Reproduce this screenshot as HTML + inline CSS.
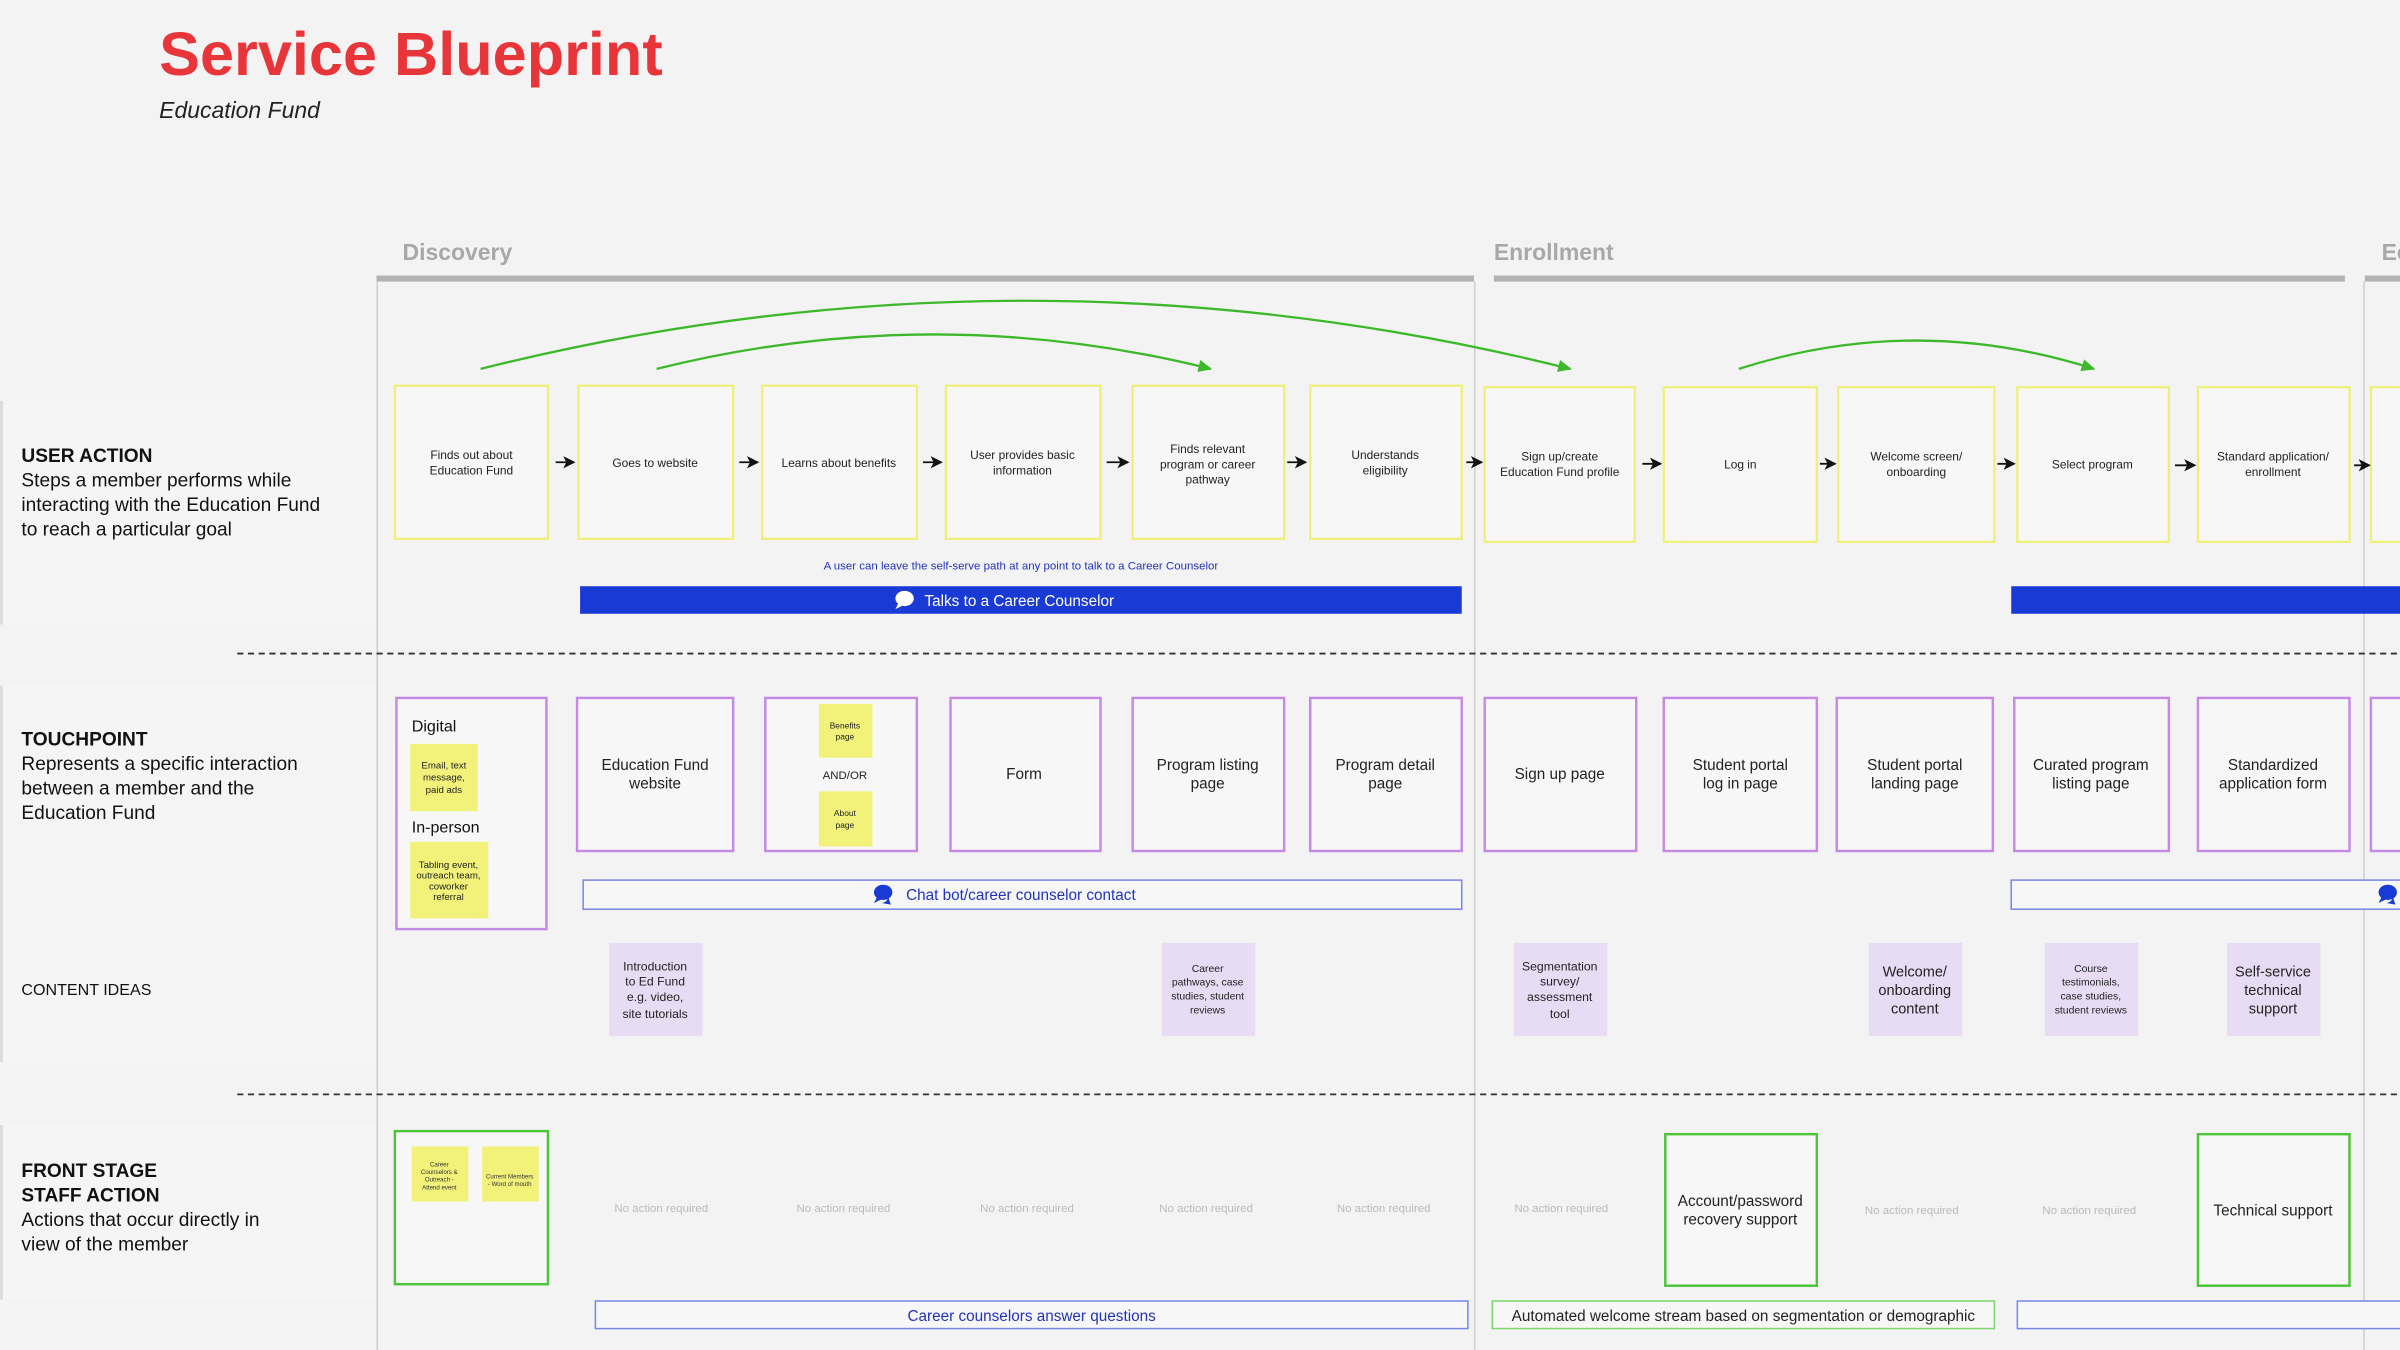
<!DOCTYPE html>
<html><head><meta charset="utf-8"><style>
html,body{margin:0;padding:0;background:#f3f3f3;}
svg{display:block;}
text{font-family:"Liberation Sans",sans-serif;}
</style></head><body>
<svg width="2400" height="1350" viewBox="0 0 1568 882" xmlns="http://www.w3.org/2000/svg">
<defs>
<marker id="ah" markerWidth="8" markerHeight="8" refX="7" refY="4" orient="auto" markerUnits="userSpaceOnUse"><path d="M0,0 L8,4 L0,8 L2,4 z" fill="#111"/></marker>
<marker id="gh" markerWidth="9" markerHeight="8" refX="8" refY="4" orient="auto" markerUnits="userSpaceOnUse"><path d="M0,0 L9,4 L0,8 z" fill="#3cb82a"/></marker>
<g id="chat"><ellipse cx="0" cy="0" rx="6" ry="5" fill="#1a3ad6"/><path d="M-4,3 L-6,7 L0,4 z" fill="#1a3ad6"/><path d="M3,2 a5,4 0 0 1 -4,5 L5,8 z" fill="#1a3ad6"/></g>
<g id="chatw"><ellipse cx="0" cy="0" rx="6" ry="5" fill="#fff"/><path d="M-4,3 L-6,7 L0,4 z" fill="#fff"/></g>
</defs>
<rect width="1568" height="882" fill="#f3f3f3"/>
<!-- left panel -->
<rect x="0" y="262" width="245" height="146" fill="#f5f5f5"/>
<rect x="0" y="262" width="2" height="146" fill="#ddd"/>
<rect x="0" y="448" width="245" height="246" fill="#f5f5f5"/>
<rect x="0" y="448" width="2" height="246" fill="#ddd"/>
<rect x="0" y="735" width="245" height="114" fill="#f5f5f5"/>
<rect x="0" y="735" width="2" height="114" fill="#ddd"/>

<text x="104" y="49" font-size="40" font-weight="bold" fill="#e8353a">Service Blueprint</text>
<text x="104" y="77" font-size="15" font-style="italic" fill="#222">Education Fund</text>

<text x="263" y="170" font-size="15" font-weight="bold" fill="#a8a8a8">Discovery</text>
<text x="976" y="170" font-size="15" font-weight="bold" fill="#a8a8a8">Enrollment</text>
<text x="1556" y="170" font-size="15" font-weight="bold" fill="#a8a8a8">Ec</text>
<rect x="246" y="180" width="717" height="4" fill="#b3b3b3"/>
<rect x="976" y="180" width="556" height="4" fill="#b3b3b3"/>
<rect x="1545" y="180" width="23" height="4" fill="#b3b3b3"/>
<line x1="246.5" y1="184" x2="246.5" y2="882" stroke="#cfcfcf" stroke-width="1"/>
<line x1="963.5" y1="184" x2="963.5" y2="882" stroke="#cfcfcf" stroke-width="1"/>
<line x1="1544.5" y1="184" x2="1544.5" y2="882" stroke="#cfcfcf" stroke-width="1"/>

<line x1="155" y1="427" x2="1568" y2="427" stroke="#333" stroke-width="1.2" stroke-dasharray="4,3"/>
<line x1="155" y1="715" x2="1568" y2="715" stroke="#333" stroke-width="1.2" stroke-dasharray="4,3"/>

<!-- row labels -->
<text font-size="12.5" fill="#111"><tspan x="14" y="302" font-weight="bold">USER ACTION</tspan><tspan x="14" y="318">Steps a member performs while</tspan><tspan x="14" y="334">interacting with the Education Fund</tspan><tspan x="14" y="350">to reach a particular goal</tspan></text>
<text font-size="12.5" fill="#111"><tspan x="14" y="487" font-weight="bold">TOUCHPOINT</tspan><tspan x="14" y="503">Represents a specific interaction</tspan><tspan x="14" y="519">between a member and the</tspan><tspan x="14" y="535">Education Fund</tspan></text>
<text x="14" y="650" font-size="10.5" fill="#111">CONTENT IDEAS</text>
<text font-size="12.5" fill="#111"><tspan x="14" y="769" font-weight="bold">FRONT STAGE</tspan><tspan x="14" y="785" font-weight="bold">STAFF ACTION</tspan><tspan x="14" y="801">Actions that occur directly in</tspan><tspan x="14" y="817">view of the member</tspan></text>

<!-- green arcs -->
<g fill="none" stroke="#3cb82a" stroke-width="1.5">
<path d="M314,241 Q670,152 1026,241" marker-end="url(#gh)"/>
<path d="M429,241 Q610,196 791,241" marker-end="url(#gh)"/>
<path d="M1136,241 Q1252,204 1368,241" marker-end="url(#gh)"/>
</g>

<!-- user action boxes -->
<g fill="#f7f7f7" stroke="#eef07a" stroke-width="1.5">
<rect x="258" y="252" width="100" height="100"/>
<rect x="378" y="252" width="101" height="100"/>
<rect x="498" y="252" width="101" height="100"/>
<rect x="618" y="252" width="101" height="100"/>
<rect x="740" y="252" width="99" height="100"/>
<rect x="856" y="252" width="99" height="100"/>
<rect x="970" y="253" width="98" height="101"/>
<rect x="1087" y="253" width="100" height="101"/>
<rect x="1201" y="253" width="102" height="101"/>
<rect x="1318" y="253" width="99" height="101"/>
<rect x="1436" y="253" width="99" height="101"/>
<rect x="1549" y="253" width="30" height="101"/>
</g>
<g font-size="7.8" fill="#222" text-anchor="middle">
<text x="308" y="300">Finds out about</text><text x="308" y="310">Education Fund</text>
<text x="428" y="305">Goes to  website</text>
<text x="548" y="305">Learns about benefits</text>
<text x="668" y="300">User provides basic</text><text x="668" y="310">information</text>
<text x="789" y="296">Finds relevant</text><text x="789" y="306">program or career</text><text x="789" y="316">pathway</text>
<text x="905" y="300">Understands</text><text x="905" y="310">eligibility</text>
<text x="1019" y="301">Sign up/create</text><text x="1019" y="311">Education Fund profile</text>
<text x="1137" y="306">Log in</text>
<text x="1252" y="301">Welcome screen/</text><text x="1252" y="311">onboarding</text>
<text x="1367" y="306">Select program</text>
<text x="1485" y="301">Standard application/</text><text x="1485" y="311">enrollment</text>
</g>
<g stroke="#111" stroke-width="1.2" marker-end="url(#ah)">
<line x1="363" y1="302" x2="375" y2="302"/>
<line x1="483" y1="302" x2="495" y2="302"/>
<line x1="603" y1="302" x2="615" y2="302"/>
<line x1="723" y1="302" x2="737" y2="302"/>
<line x1="841" y1="302" x2="853" y2="302"/>
<line x1="958" y1="302" x2="968" y2="302"/>
<line x1="1073" y1="303" x2="1085" y2="303"/>
<line x1="1189" y1="303" x2="1199" y2="303"/>
<line x1="1305" y1="303" x2="1316" y2="303"/>
<line x1="1421" y1="304" x2="1434" y2="304"/>
<line x1="1538" y1="304" x2="1548" y2="304"/>
</g>

<text x="667" y="372" font-size="7.5" fill="#2233bb" text-anchor="middle">A user can leave the self-serve path at any point to talk to a Career Counselor</text>
<rect x="379" y="383" width="576" height="18" fill="#1a3ad6"/>
<use href="#chatw" x="591" y="391"/>
<text x="604" y="396" font-size="10" fill="#fff">Talks to a Career Counselor</text>
<rect x="1314" y="383" width="254" height="18" fill="#1a3ad6"/>

<!-- touchpoints -->
<g fill="#f7f7f7" stroke="#c48ae6" stroke-width="1.6">
<rect x="259" y="456" width="98" height="151"/>
<rect x="377" y="456" width="102" height="100"/>
<rect x="500" y="456" width="99" height="100"/>
<rect x="621" y="456" width="98" height="100"/>
<rect x="740" y="456" width="99" height="100"/>
<rect x="856" y="456" width="99" height="100"/>
<rect x="970" y="456" width="99" height="100"/>
<rect x="1087" y="456" width="100" height="100"/>
<rect x="1200" y="456" width="102" height="100"/>
<rect x="1316" y="456" width="101" height="100"/>
<rect x="1436" y="456" width="99" height="100"/>
<rect x="1549" y="456" width="30" height="100"/>
</g>
<g fill="#f2f27a">
<rect x="268" y="486" width="44" height="44"/>
<rect x="268" y="550" width="51" height="50"/>
<rect x="535" y="460" width="35" height="35"/>
<rect x="535" y="517" width="35" height="36"/>
</g>
<text x="269" y="478" font-size="10.5" fill="#111">Digital</text>
<text x="269" y="544" font-size="10.5" fill="#111">In-person</text>
<g font-size="6.3" fill="#222" text-anchor="middle">
<text x="290" y="502">Email, text</text><text x="290" y="510">message,</text><text x="290" y="518">paid ads</text>
<text x="293" y="567">Tabling event,</text><text x="293" y="574">outreach team,</text><text x="293" y="581">coworker</text><text x="293" y="588">referral</text>
<text x="552" y="476" font-size="5.5">Benefits</text><text x="552" y="483" font-size="5.5">page</text>
<text x="552" y="533" font-size="5.5">About</text><text x="552" y="541" font-size="5.5">page</text>
</g>
<text x="552" y="509" font-size="7.5" fill="#222" text-anchor="middle">AND/OR</text>
<g font-size="10" fill="#222" text-anchor="middle">
<text x="428" y="503">Education Fund</text><text x="428" y="515">website</text>
<text x="669" y="509">Form</text>
<text x="789" y="503">Program listing</text><text x="789" y="515">page</text>
<text x="905" y="503">Program detail</text><text x="905" y="515">page</text>
<text x="1019" y="509">Sign up page</text>
<text x="1137" y="503">Student portal</text><text x="1137" y="515">log in page</text>
<text x="1251" y="503">Student portal</text><text x="1251" y="515">landing page</text>
<text x="1366" y="503">Curated program</text><text x="1366" y="515">listing page</text>
<text x="1485" y="503">Standardized</text><text x="1485" y="515">application form</text>
</g>

<rect x="381" y="575" width="574" height="19" fill="#f7f7f7" stroke="#7a88e6" stroke-width="1"/>
<use href="#chat" x="577" y="583"/>
<text x="592" y="588" font-size="10" fill="#2233bb">Chat bot/career counselor contact</text>
<rect x="1314" y="575" width="260" height="19" fill="#f7f7f7" stroke="#7a88e6" stroke-width="1"/>
<use href="#chat" x="1560" y="583"/>

<!-- content ideas -->
<g fill="#e8dcf5">
<rect x="398" y="616" width="61" height="61"/>
<rect x="759" y="616" width="61" height="61"/>
<rect x="989" y="616" width="61" height="61"/>
<rect x="1221" y="616" width="61" height="61"/>
<rect x="1336" y="616" width="61" height="61"/>
<rect x="1455" y="616" width="61" height="61"/>
</g>
<g fill="#222" text-anchor="middle">
<g font-size="8"><text x="428" y="634">Introduction</text><text x="428" y="644">to Ed Fund</text><text x="428" y="654">e.g. video,</text><text x="428" y="665">site tutorials</text></g>
<g font-size="6.8"><text x="789" y="635">Career</text><text x="789" y="644">pathways, case</text><text x="789" y="653">studies, student</text><text x="789" y="662">reviews</text></g>
<g font-size="8"><text x="1019" y="634">Segmentation</text><text x="1019" y="644">survey/</text><text x="1019" y="654">assessment</text><text x="1019" y="665">tool</text></g>
<g font-size="9.5"><text x="1251" y="638">Welcome/</text><text x="1251" y="650">onboarding</text><text x="1251" y="662">content</text></g>
<g font-size="6.8"><text x="1366" y="635">Course</text><text x="1366" y="644">testimonials,</text><text x="1366" y="653">case studies,</text><text x="1366" y="662">student reviews</text></g>
<g font-size="9.5"><text x="1485" y="638">Self-service</text><text x="1485" y="650">technical</text><text x="1485" y="662">support</text></g>
</g>

<!-- front stage -->
<g fill="#f7f7f7" stroke="#4ec43a" stroke-width="1.6">
<rect x="258" y="739" width="100" height="100"/>
<rect x="1088" y="741" width="99" height="99"/>
<rect x="1436" y="741" width="99" height="99"/>
</g>
<rect x="269" y="749" width="37" height="36" fill="#f2f27a"/>
<rect x="315" y="749" width="37" height="36" fill="#f2f27a"/>
<g font-size="4" fill="#333" text-anchor="middle">
<text x="287" y="762">Career</text><text x="287" y="767">Counselors &amp;</text><text x="287" y="772">Outreach -</text><text x="287" y="777">Attend event</text>
<text x="333" y="770">Current Members</text><text x="333" y="775">- Word of mouth</text>
</g>
<g font-size="7.5" fill="#bbb" text-anchor="middle">
<text x="432" y="792">No action required</text>
<text x="551" y="792">No action required</text>
<text x="671" y="792">No action required</text>
<text x="788" y="792">No action required</text>
<text x="904" y="792">No action required</text>
<text x="1020" y="792">No action required</text>
<text x="1249" y="793">No action required</text>
<text x="1365" y="793">No action required</text>
</g>
<g font-size="10" fill="#222" text-anchor="middle">
<text x="1137" y="788">Account/password</text><text x="1137" y="800">recovery support</text>
<text x="1485" y="794">Technical support</text>
</g>

<rect x="389" y="850" width="570" height="18" fill="#f7f7f7" stroke="#7a88e6" stroke-width="1"/>
<text x="674" y="863" font-size="10" fill="#2233bb" text-anchor="middle">Career counselors answer questions</text>
<rect x="975" y="850" width="328" height="18" fill="#f7f7f7" stroke="#7ed46e" stroke-width="1"/>
<text x="1139" y="863" font-size="10" fill="#222" text-anchor="middle">Automated welcome stream based on segmentation or demographic</text>
<rect x="1318" y="850" width="260" height="18" fill="#f7f7f7" stroke="#7a88e6" stroke-width="1"/>
</svg>
</body></html>
